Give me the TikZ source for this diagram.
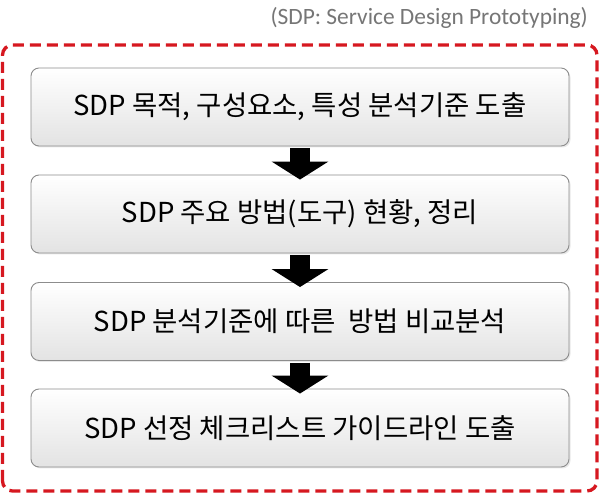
\documentclass[tikz,border=0pt]{standalone}
\usepackage{fontspec}
\setmainfont{Noto Sans CJK KR}
\newfontfamily\capfont{Carlito}
\usetikzlibrary{arrows.meta,shadows}
\definecolor{framered}{RGB}{214,24,32}
\definecolor{boxborder}{RGB}{140,140,140}
\definecolor{capgray}{RGB}{118,118,118}
\begin{document}
\begin{tikzpicture}[x=1pt,y=1pt,
  stepbox/.style={draw=boxborder, line width=0.9pt, rounded corners=8pt,
    minimum width=538pt, minimum height=78pt, top color=white, bottom color=black!11,
    drop shadow={shadow xshift=1.5pt, shadow yshift=-1.5pt, opacity=0.18},
    font=\fontsize{27.5}{32}\selectfont, text=black, inner sep=0pt},
  flowarrow/.style={line width=20pt, -{Triangle[width=56pt,length=18pt]}, black}]
\useasboundingbox (0,0) rectangle (600,494);
\fill[white] (0,0) rectangle (600,494);
\node[anchor=base east, text=capgray, font=\capfont\fontsize{23.4}{27}\selectfont, inner sep=0pt] (cap) at (588,469) {(SDP: Service Design Prototyping)};
\draw[framered, line width=3.3pt, dash pattern=on 11pt off 6pt, rounded corners=10pt] (2.5,3) rectangle (597,449);
\node[stepbox] (b1) at (300,387) {SDP 목적, 구성요소, 특성 분석기준 도출};
\node[stepbox] (b2) at (300,280) {SDP 주요 방법(도구) 현황, 정리};
\node[stepbox] (b3) at (300,172.5) {SDP 분석기준에 따른~ 방법 비교분석};
\node[stepbox] (b4) at (300,66) {SDP 선정 체크리스트 가이드라인 도출};
\draw[flowarrow] ([yshift=-2pt]b1.south) -- ([yshift=-5pt]b2.north);
\draw[flowarrow] ([yshift=-2pt]b2.south) -- ([yshift=-5pt]b3.north);
\draw[flowarrow] ([yshift=-2pt]b3.south) -- ([yshift=-5pt]b4.north);
\end{tikzpicture}
\end{document}
